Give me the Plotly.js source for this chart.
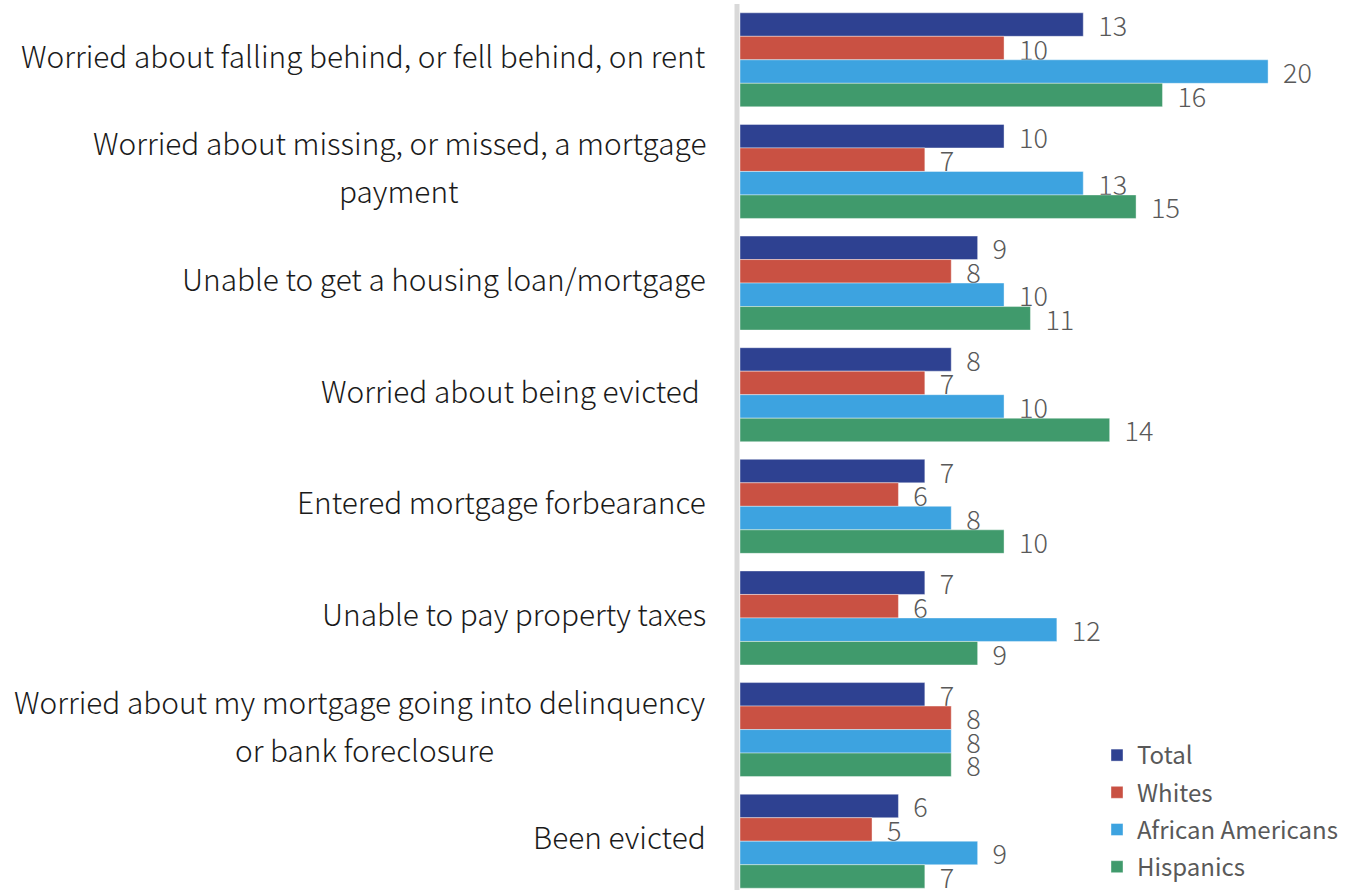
<!DOCTYPE html>
<html>
<head>
<meta charset="utf-8">
<script src="https://cdn.plot.ly/plotly-3.0.1.min.js"></script>
<style>html,body{margin:0;padding:0;background:#fff;overflow:hidden}#chart{width:1365px;height:890px}</style>
</head>
<body>
<div id="chart"></div>
<script>
const categories = [
  "Worried about falling behind, or fell behind, on rent",
  "Worried about missing, or missed, a mortgage<br>payment",
  "Unable to get a housing loan/mortgage",
  "Worried about being evicted ",
  "Entered mortgage forbearance",
  "Unable to pay property taxes",
  "Worried about my mortgage going into delinquency<br>or bank foreclosure",
  "Been evicted"
];
const seriesNames = ["Total", "Whites", "African Americans", "Hispanics"];
const total = [13, 10, 9, 8, 7, 7, 7, 6];
const whites = [10, 7, 8, 7, 6, 6, 8, 5];
const africanAmericans = [20, 13, 10, 10, 8, 12, 8, 9];
const hispanics = [16, 15, 11, 14, 10, 9, 8, 7];

const colors = ["#2E4191", "#C95143", "#3DA3E0", "#409A6C"];
const FONT = '"Noto Sans CJK JP", "Noto Sans", sans-serif';
const idx = categories.map((_, i) => i);
const values = [total, whites, africanAmericans, hispanics];

const traces = values.map((v, k) => ({
  type: 'bar',
  orientation: 'h',
  name: seriesNames[k],
  legendgroup: 'g' + k,
  y: idx,
  x: v,
  marker: {color: colors[k], line: {color: 'rgba(255,255,255,0.5)', width: 0.8}},
  text: v.map(String),
  texttemplate: '\u00a0\u00a0%{text}',
  textposition: 'outside',
  constraintext: 'none',
  cliponaxis: false,
  textfont: {family: FONT, size: 27, color: '#595959', weight: 300},
  hoverinfo: 'x+name'
}));

// category labels as annotations (for wide line spacing)
const annotations = [];
const L = 740, W = 625;
const px = p => (p - L) / W;
const secondLineCenters = {1: 398.5, 6: 364};
const labelFont = {family: FONT, size: 29.8, color: '#1a1a1a', weight: 300};
categories.forEach((c, i) => {
  const parts = c.split('<br>');
  if (parts.length === 1) {
    annotations.push({xref: 'paper', yref: 'y', x: px(708), y: i, xanchor: 'right', yanchor: 'middle',
      text: parts[0], showarrow: false, yshift: 5, font: labelFont});
  } else {
    annotations.push({xref: 'paper', yref: 'y', x: px(708), y: i, xanchor: 'right', yanchor: 'middle',
      text: parts[0], showarrow: false, yshift: 29, font: labelFont});
    annotations.push({xref: 'paper', yref: 'y', x: px(secondLineCenters[i]), y: i, xanchor: 'center', yanchor: 'middle',
      text: parts[1], showarrow: false, yshift: -19, font: labelFont});
  }
});

const layout = {
  width: 1365, height: 890,
  margin: {l: 740, r: 0, t: 4, b: 0, pad: 0},
  paper_bgcolor: '#fff', plot_bgcolor: '#fff',
  barmode: 'group', bargap: 0.158, bargroupgap: 0,
  font: {family: FONT},
  xaxis: {range: [0, 23.67], showgrid: false, zeroline: false, showticklabels: false, showline: false, fixedrange: true},
  yaxis: {range: [7.437, -0.5], showgrid: false, zeroline: false, showticklabels: false, showline: false, ticks: '', fixedrange: true},
  showlegend: true,
  legend: {x: px(1097), y: 1 - (733 - 4) / 886, xanchor: 'left', yanchor: 'top', xref: 'paper', yref: 'paper',
    bgcolor: 'rgba(0,0,0,0)', traceorder: 'grouped', tracegroupgap: 3,
    font: {family: FONT, size: 24, color: '#595959'}},
  shapes: [{type: 'line', xref: 'paper', yref: 'paper', x0: -0.0048, x1: -0.0048, y0: 0, y1: 1,
    line: {color: '#D9D9D9', width: 5}}],
  annotations: annotations
};

Plotly.newPlot('chart', traces, layout, {displayModeBar: false, staticPlot: true});
</script>
</body>
</html>
